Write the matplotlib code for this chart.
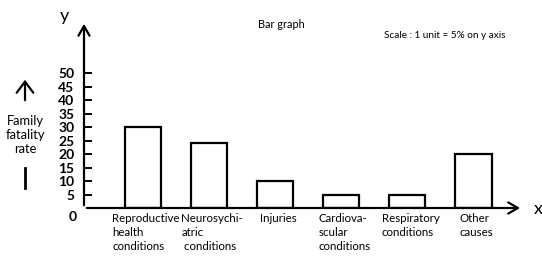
import matplotlib.pyplot as plt
import numpy as np

plt.rcParams['font.family'] = ['Lato', 'DejaVu Sans']

categories = ['Reproductive\nhealth\nconditions', 'Neurosychi-\natric\n conditions', 'Injuries',
              'Cardiova-\nscular\nconditions', 'Respiratory\nconditions', 'Other\ncauses']
rates = [30, 24, 10, 5, 5, 20]
yticks = [5, 10, 15, 20, 25, 30, 35, 40, 45, 50]

W, H = 542, 257
fig = plt.figure(figsize=(W / 100, H / 100), dpi=100)
# axes: y axis at x=84px, x axis at y=208px, arrow tips at (523, 21)
ax = fig.add_axes([84 / W, (H - 208) / H, (523 - 84) / W, (208 - 21) / H])
ax.set_xlim(-0.89, 5.75)
ax.set_ylim(0, 69.3)

x = np.arange(len(categories))
ax.bar(x, rates, width=0.55, facecolor='white', edgecolor='black', linewidth=1.6, zorder=2)

arrow = dict(arrowstyle='->,head_length=0.7,head_width=0.4', lw=1.6, color='black')
for s in ax.spines.values():
    s.set_visible(False)
ax.annotate('', xy=(1, 0), xytext=(0, 0), xycoords='axes fraction', arrowprops=arrow,
            annotation_clip=False)
ax.annotate('', xy=(0, 1), xytext=(0, 0), xycoords='axes fraction', arrowprops=arrow,
            annotation_clip=False)

ax.set_xticks([])
ax.set_yticks(yticks)
ax.set_yticklabels([str(t) for t in yticks], fontsize=10, fontweight='bold')
ax.tick_params(axis='y', direction='in', length=6, width=1.4, pad=7)

ax.text(-0.016, -1.0, '0', transform=ax.get_yaxis_transform(), ha='right', va='top',
        fontsize=10, fontweight='bold')

for xi, lab in zip(x, categories):
    ax.text(xi + 0.05, -2.0, lab, ha='center', va='top', multialignment='left',
            fontsize=8.3, linespacing=1.3)

fig.text(64 / W, 1 - 16 / H, 'y', fontsize=13, ha='center', va='center')
fig.text(538 / W, 1 - 209 / H, 'x', fontsize=13, ha='center', va='center')
fig.text(281 / W, 1 - 25 / H, 'Bar graph', fontsize=7.8, ha='center', va='center')
fig.text(445 / W, 1 - 36 / H, 'Scale : 1 unit = 5% on y axis', fontsize=7.2, ha='center', va='center')

# left-hand label with hand-drawn arrow and bar
fig.add_artist(plt.matplotlib.patches.FancyArrowPatch(
    (25 / W, 1 - 103 / H), (25 / W, 1 - 77 / H), transform=fig.transFigure,
    arrowstyle='->,head_length=4,head_width=3', lw=1.6, color='black', mutation_scale=2))
fig.text(25 / W, 1 - 135 / H, 'Family\nfatality\nrate', fontsize=9.3, ha='center', va='center',
         linespacing=1.2)
fig.add_artist(plt.Line2D([25 / W, 25 / W], [1 - 168 / H, 1 - 188 / H],
                          transform=fig.transFigure, lw=2, color='black'))

fig.savefig('out.png', dpi=100)
